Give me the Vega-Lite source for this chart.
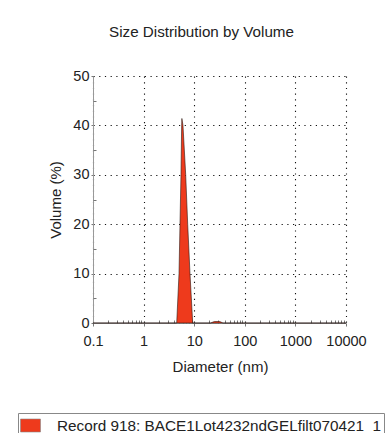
{
  "$schema": "https://vega.github.io/schema/vega-lite/v6.json",
  "width": 253,
  "height": 247,
  "autosize": {"type": "none"},
  "padding": {"left": 93, "top": 76, "right": 46, "bottom": 110},
  "background": "white",
  "config": {
    "font": "Liberation Sans",
    "view": {"stroke": null},
    "axis": {
      "labelFont": "Liberation Sans",
      "titleFont": "Liberation Sans",
      "labelColor": "#222",
      "titleColor": "#222",
      "labelFontSize": 14.5,
      "titleFontSize": 15,
      "titleFontWeight": "normal",
      "domainColor": "#999",
      "tickColor": "#777"
    }
  },
  "title": {
    "text": "Size Distribution by Volume",
    "font": "Liberation Sans",
    "fontSize": 15.2,
    "fontWeight": "normal",
    "color": "#222",
    "anchor": "middle",
    "dx": -18,
    "offset": 28
  },
  "datasets": {
    "dist": [
      {"d": 0.1, "v": 0, "record": "Record 918: BACE1Lot4232ndGELfilt070421\u00a0\u00a01"},
      {"d": 4.51, "v": 0, "record": "Record 918: BACE1Lot4232ndGELfilt070421\u00a0\u00a01"},
      {"d": 5.01, "v": 10, "record": "Record 918: BACE1Lot4232ndGELfilt070421\u00a0\u00a01"},
      {"d": 5.24, "v": 20, "record": "Record 918: BACE1Lot4232ndGELfilt070421\u00a0\u00a01"},
      {"d": 5.48, "v": 30, "record": "Record 918: BACE1Lot4232ndGELfilt070421\u00a0\u00a01"},
      {"d": 5.65, "v": 40, "record": "Record 918: BACE1Lot4232ndGELfilt070421\u00a0\u00a01"},
      {"d": 5.71, "v": 41.4, "record": "Record 918: BACE1Lot4232ndGELfilt070421\u00a0\u00a01"},
      {"d": 6.0, "v": 40, "record": "Record 918: BACE1Lot4232ndGELfilt070421\u00a0\u00a01"},
      {"d": 6.79, "v": 30, "record": "Record 918: BACE1Lot4232ndGELfilt070421\u00a0\u00a01"},
      {"d": 7.44, "v": 20, "record": "Record 918: BACE1Lot4232ndGELfilt070421\u00a0\u00a01"},
      {"d": 8.26, "v": 10, "record": "Record 918: BACE1Lot4232ndGELfilt070421\u00a0\u00a01"},
      {"d": 9.34, "v": 0, "record": "Record 918: BACE1Lot4232ndGELfilt070421\u00a0\u00a01"},
      {"d": 21, "v": 0, "record": "Record 918: BACE1Lot4232ndGELfilt070421\u00a0\u00a01"},
      {"d": 25, "v": 0.3, "record": "Record 918: BACE1Lot4232ndGELfilt070421\u00a0\u00a01"},
      {"d": 32, "v": 0.3, "record": "Record 918: BACE1Lot4232ndGELfilt070421\u00a0\u00a01"},
      {"d": 37, "v": 0, "record": "Record 918: BACE1Lot4232ndGELfilt070421\u00a0\u00a01"},
      {"d": 10000, "v": 0, "record": "Record 918: BACE1Lot4232ndGELfilt070421\u00a0\u00a01"}
    ]
  },
  "data": {"name": "dist"},
  "resolve": {"axis": {"x": "independent", "y": "independent"}},
  "layer": [
    {
      "mark": {"type": "area", "interpolate": "linear", "stroke": "#2a1a14", "strokeWidth": 0.6},
      "encoding": {
        "x": {
          "field": "d",
          "type": "quantitative",
          "scale": {"type": "log", "domain": [0.1, 10000], "nice": false},
          "axis": {
            "orient": "bottom",
            "values": [0.1, 1, 10, 100, 1000, 10000],
            "labelExpr": "datum.value >= 1 ? format(datum.value, 'd') : '0.1'",
            "labelFlush": false,
            "labelOverlap": false,
            "tickSize": 3,
            "labelPadding": 8,
            "grid": true,
            "gridColor": "#111",
            "gridDash": [1.2, 4.5],
            "gridWidth": 1.1,
            "title": "Diameter (nm)",
            "titleX": 127,
            "titleY": 43,
            "titleBaseline": "middle",
            "titleAlign": "center"
          }
        },
        "y": {
          "field": "v",
          "type": "quantitative",
          "scale": {"domain": [0, 50], "nice": false},
          "axis": {
            "orient": "left",
            "values": [0, 10, 20, 30, 40, 50],
            "tickSize": 2,
            "labelPadding": 2,
            "grid": true,
            "gridColor": "#111",
            "gridDash": [1.2, 4.5],
            "gridWidth": 1.1,
            "title": "Volume (%)",
            "titleAngle": -90,
            "titleX": -38,
            "titleY": 123.5,
            "titleBaseline": "middle",
            "titleAlign": "center"
          }
        },
        "color": {
          "field": "record",
          "type": "nominal",
          "scale": {"range": ["#ee3a1c"]},
          "legend": {
            "title": null,
            "orient": "none",
            "legendX": -75,
            "legendY": 337,
            "direction": "vertical",
            "symbolType": "M-1,-0.65L1,-0.65L1,0.65L-1,0.65Z",
            "symbolSize": 400,
            "symbolStrokeColor": "#888",
            "symbolStrokeWidth": 0.6,
            "symbolOpacity": 1,
            "labelFont": "Liberation Sans",
            "labelFontSize": 15.3,
            "labelColor": "#222",
            "labelLimit": 400,
            "labelOffset": 16,
            "padding": 2,
            "strokeColor": "#888"
          }
        }
      }
    },
    {
      "mark": {"type": "point", "opacity": 0},
      "encoding": {
        "x": {
          "field": "d",
          "type": "quantitative",
          "scale": {"type": "log", "domain": [0.1, 10000], "nice": false},
          "axis": {
            "orient": "bottom",
            "values": [0.2, 0.3, 0.4, 0.5, 0.6, 0.7, 0.8, 0.9, 2, 3, 4, 5, 6, 7, 8, 9, 20, 30, 40, 50, 60, 70, 80, 90, 200, 300, 400, 500, 600, 700, 800, 900, 2000, 3000, 4000, 5000, 6000, 7000, 8000, 9000],
            "labels": false,
            "domain": false,
            "grid": false,
            "tickSize": -3,
            "title": null
          }
        },
        "y": {
          "field": "v",
          "type": "quantitative",
          "scale": {"domain": [0, 50], "nice": false},
          "axis": {
            "orient": "left",
            "values": [5, 15, 25, 35, 45],
            "labels": false,
            "domain": false,
            "grid": false,
            "tickSize": -3,
            "title": null
          }
        }
      }
    }
  ]
}
